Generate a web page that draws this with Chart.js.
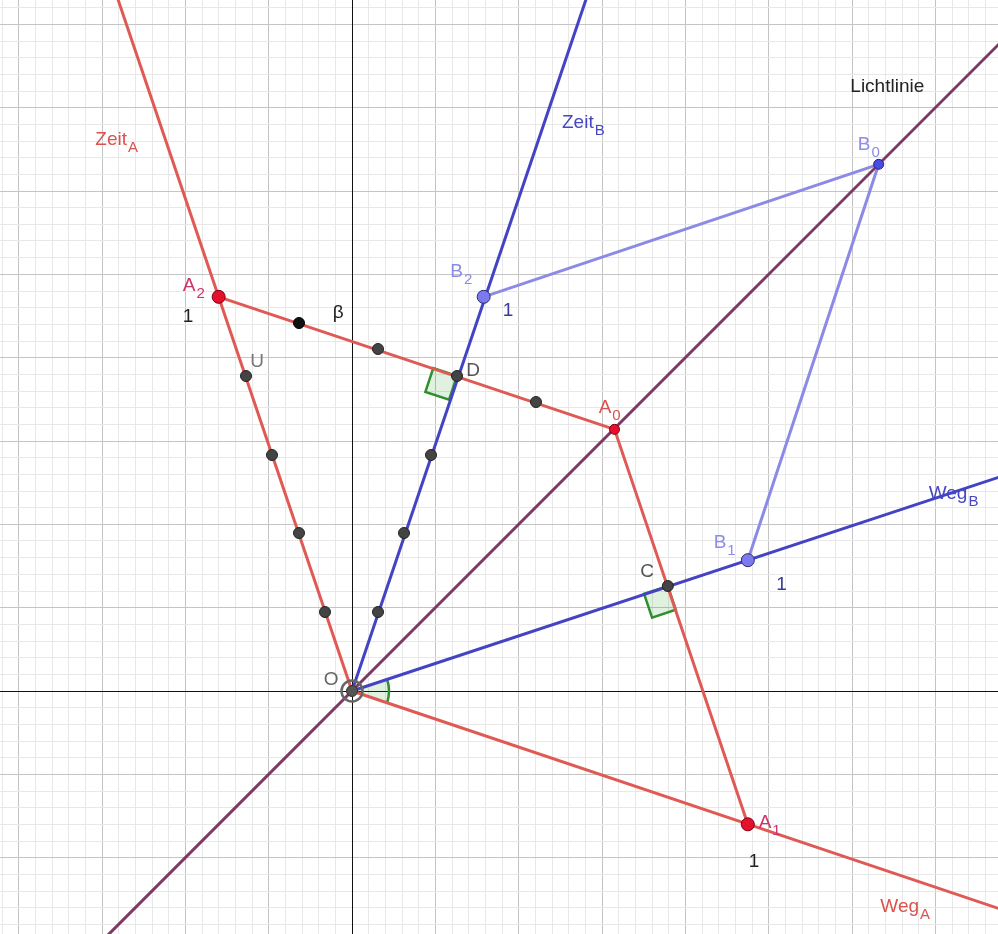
<!DOCTYPE html>
<html>
<head>
<meta charset="utf-8">
<script src="https://cdn.jsdelivr.net/npm/chart.js@4"></script>
<style>
  html, body { margin: 0; padding: 0; background: #fff; }
  canvas { display: block; }
</style>
</head>
<body>
<canvas id="c" width="998" height="934"></canvas>
<script>
// visible window (1 unit = one big grid square)
const X_RANGE = [-4.224, 7.752];
const Y_RANGE = [-2.916, 8.292];

// points
const O  = [0, 0];
const A1 = [4.75, -1.6];
const A2 = [-1.6, 4.73];
const A0 = [3.15, 3.14];
const B1 = [4.75, 1.57];
const B2 = [1.58, 4.73];
const B0 = [6.32, 6.32];
const C  = [3.79, 1.26];
const D  = [1.26, 3.78];
const BETA = [-0.636, 4.416];

// small dots on O-A2, O-B2 and A2-A0
const dotsZeitA = [[-0.324, 0.948], [-0.636, 1.896], [-0.96, 2.832], [-1.272, 3.78]];
const dotsZeitB = [[0.312, 0.948], [0.624, 1.896], [0.948, 2.832]];
const dotsA2A0  = [[0.312, 4.104], [2.208, 3.468]];

// far ends of the rays and of the light line
const zeitAEnd = [-2.91, 8.6];
const zeitBEnd = [2.91, 8.6];
const wegAEnd  = [8.0, -2.69];
const wegBEnd  = [8.0, 2.644];
const lightLine = [[-4.5, -4.5], [8.5, 8.5]];

// text labels: [text, subscript, x, y, colour]
const labels = [
  ['Zeit', 'A', -3.08, 6.55, '#d9534f'],
  ['Zeit', 'B', 2.52, 6.76, '#4646c4'],
  ['Lichtlinie', '', 5.98, 7.19, '#222'],
  ['B', '0', 6.07, 6.49, '#8c8ce6'],
  ['B', '2', 1.18, 4.97, '#8c8ce6'],
  ['1', '', 1.81, 4.5, '#3a3a9a'],
  ['A', '2', -2.03, 4.8, '#cc3366'],
  ['1', '', -2.03, 4.43, '#222'],
  ['\u03b2', '', -0.23, 4.48, '#222'],
  ['U', '', -1.22, 3.89, '#777'],
  ['D', '', 1.37, 3.78, '#555'],
  ['A', '0', 2.96, 3.34, '#d9534f'],
  ['C', '', 3.46, 1.37, '#555'],
  ['B', '1', 4.34, 1.72, '#8c8ce6'],
  ['1', '', 5.09, 1.21, '#3a3a9a'],
  ['Weg', 'B', 6.92, 2.30, '#4646c4'],
  ['O', '', -0.34, 0.07, '#666'],
  ['A', '1', 4.88, -1.64, '#cc3366'],
  ['1', '', 4.76, -2.11, '#222'],
  ['Weg', 'A', 6.34, -2.65, '#d9534f']
];

const RED = '#e05a55', BLUE = '#4343c4', LIGHTBLUE = '#8b8be6', LIGHT = '#7b3a63';

function pts(list) { return list.map(p => ({ x: p[0], y: p[1] })); }
function line(data, color, w) {
  return { data: pts(data), showLine: true, borderColor: color, borderWidth: w || 3,
           pointRadius: 0, fill: false, tension: 0 };
}
function dots(data, fill, border, r) {
  return { data: pts(data), showLine: false, pointRadius: r, pointHoverRadius: r,
           pointBackgroundColor: fill, pointBorderColor: border, pointBorderWidth: 1 };
}

function gridTicks(scale) {
  const t = [];
  for (let k = Math.ceil(scale.min * 5); k <= Math.floor(scale.max * 5); k++) t.push({ value: k / 5 });
  scale.ticks = t;
}
function gridColor(c) {
  const k = Math.round(c.tick.value * 5);
  if (k === 0) return 'rgba(0,0,0,0)';
  return k % 5 === 0 ? '#c4c4c4' : '#e8e8e8';
}

// axes, right angle squares and the angle at O, then labels
const marks = {
  id: 'marks',
  beforeDatasetsDraw(chart) {
    const ctx = chart.ctx, xs = chart.scales.x, ys = chart.scales.y, a = chart.chartArea;
    const px = p => [xs.getPixelForValue(p[0]), ys.getPixelForValue(p[1])];
    const unit = (a, b) => { const dx = b[0] - a[0], dy = b[1] - a[1], l = Math.hypot(dx, dy); return [dx / l, dy / l]; };
    ctx.save();
    // axes
    const x0 = Math.round(xs.getPixelForValue(0)) + 0.5, y0 = Math.round(ys.getPixelForValue(0)) + 0.5;
    ctx.strokeStyle = '#111';
    ctx.lineWidth = 1;
    ctx.beginPath();
    ctx.moveTo(a.left, y0); ctx.lineTo(a.right, y0);
    ctx.moveTo(x0, a.top); ctx.lineTo(x0, a.bottom);
    ctx.stroke();

    function square(at, p, q) {
      const P = px(at), u = unit(P, px(p)), v = unit(P, px(q)), s = 25;
      ctx.beginPath();
      ctx.moveTo(P[0], P[1]);
      ctx.lineTo(P[0] + s * u[0], P[1] + s * u[1]);
      ctx.lineTo(P[0] + s * u[0] + s * v[0], P[1] + s * u[1] + s * v[1]);
      ctx.lineTo(P[0] + s * v[0], P[1] + s * v[1]);
      ctx.closePath();
      ctx.fillStyle = 'rgba(0,140,0,0.12)';
      ctx.fill();
      ctx.strokeStyle = '#2f8f2f';
      ctx.lineWidth = 2.5;
      ctx.stroke();
    }
    square(D, A2, O);
    square(C, A1, O);
    const P = px(O), a1 = px(wegBEnd), a2 = px(wegAEnd);
    const t1 = Math.atan2(a1[1] - P[1], a1[0] - P[0]);
    const t2 = Math.atan2(a2[1] - P[1], a2[0] - P[0]);
    ctx.beginPath();
    ctx.moveTo(P[0], P[1]);
    ctx.arc(P[0], P[1], 37, t1, t2);
    ctx.closePath();
    ctx.fillStyle = 'rgba(0,140,0,0.12)';
    ctx.fill();
    ctx.beginPath();
    ctx.arc(P[0], P[1], 37, t1, t2);
    ctx.strokeStyle = '#2f8f2f';
    ctx.lineWidth = 2.5;
    ctx.stroke();
    ctx.restore();
  },
  afterDatasetsDraw(chart) {
    const ctx = chart.ctx, xs = chart.scales.x, ys = chart.scales.y;
    ctx.save();
    ctx.textBaseline = 'alphabetic';
    ctx.textAlign = 'left';
    labels.forEach(l => {
      const x = xs.getPixelForValue(l[2]), y = ys.getPixelForValue(l[3]);
      ctx.fillStyle = l[4];
      ctx.font = '19px "Liberation Sans", Arial, sans-serif';
      ctx.fillText(l[0], x, y);
      if (l[1]) {
        const w = ctx.measureText(l[0]).width;
        ctx.font = '15px "Liberation Sans", Arial, sans-serif';
        ctx.fillText(l[1], x + w + 1, y + 7);
      }
    });
    ctx.restore();
  }
};

// datasets listed top-most first (Chart.js paints index 0 last)
new Chart(document.getElementById('c'), {
  type: 'scatter',
  data: {
    datasets: [
      dots([O], '#555', '#333', 5.5),
      { data: pts([O]), showLine: false, pointRadius: 10.5, pointHoverRadius: 10.5,
        pointBackgroundColor: 'rgba(0,0,0,0)', pointBorderColor: '#666', pointBorderWidth: 2.5 },
      dots([B0], '#4a4ae6', '#22226a', 5),
      dots([B1, B2], '#7b7bef', '#2a2a6a', 6.5),
      dots([A0], '#e4102c', '#7a0010', 5),
      dots([A1, A2], '#e4102c', '#7a0010', 6.5),
      dots([BETA], '#111', '#000', 5.5),
      dots(dotsZeitA.concat(dotsZeitB, dotsA2A0, [C, D]), '#444', '#222', 5.5),
      line([B2, B0, B1], LIGHTBLUE),
      line([O, wegBEnd], BLUE),
      line([O, zeitBEnd], BLUE),
      line([A2, A0, A1], RED),
      line([O, wegAEnd], RED),
      line([O, zeitAEnd], RED),
      line(lightLine, LIGHT)
    ]
  },
  options: {
    responsive: false,
    devicePixelRatio: 1,
    animation: false,
    layout: { padding: 0, autoPadding: false },
    plugins: { legend: { display: false }, tooltip: { enabled: false } },
    scales: {
      x: {
        type: 'linear', min: X_RANGE[0], max: X_RANGE[1],
        afterBuildTicks: gridTicks,
        ticks: { display: false },
        border: { display: false },
        grid: { drawTicks: false, color: gridColor, lineWidth: 1 }
      },
      y: {
        type: 'linear', min: Y_RANGE[0], max: Y_RANGE[1],
        afterBuildTicks: gridTicks,
        ticks: { display: false },
        border: { display: false },
        grid: { drawTicks: false, color: gridColor, lineWidth: 1 }
      }
    }
  },
  plugins: [marks]
});
</script>
</body>
</html>
